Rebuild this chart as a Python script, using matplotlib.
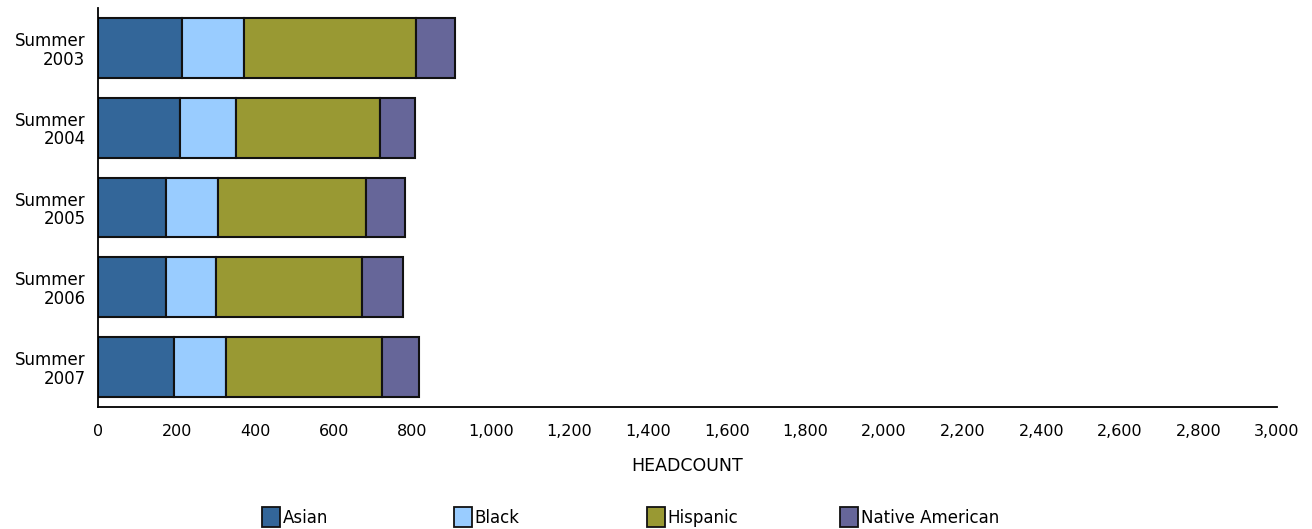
import matplotlib
matplotlib.use("Agg")
from matplotlib import pyplot as plt
from matplotlib.patches import Patch
import numpy as np

# Data
terms = ["Summer\n2003", "Summer\n2004", "Summer\n2005", "Summer\n2006", "Summer\n2007"]
asian = [215, 209, 174, 174, 193]
black = [157, 142, 131, 126, 133]
hispanic = [437, 367, 378, 373, 397]
native_american = [99, 88, 97, 102, 94]

groups = ["Asian", "Black", "Hispanic", "Native American"]
colors = ["#336699", "#99ccff", "#999933", "#666699"]
x_ticks = list(range(0, 3001, 200))

fig = plt.figure(figsize=(13.12, 5.29), dpi=100)
ax = fig.add_axes([98 / 1312, 1 - 407 / 529, 1179 / 1312, 399 / 529])

y = np.arange(len(terms))
left = np.zeros(len(terms))
for name, values, color in zip(groups, [asian, black, hispanic, native_american], colors):
    ax.barh(y, values, left=left, height=0.75, color=color,
            edgecolor="#111111", linewidth=1.5, label=name)
    left += np.array(values)

ax.set_ylim(4.5, -0.5)
ax.set_yticks(y)
ax.set_yticklabels(terms, fontsize=12, linespacing=1.05)
ax.set_xlim(0, 3000)
ax.set_xticks(x_ticks)
ax.set_xticklabels([f"{t:,}" for t in x_ticks], fontsize=11.5)
ax.tick_params(length=0, pad=12, axis="x")
ax.tick_params(length=0, pad=9, axis="y")

for side in ["top", "right"]:
    ax.spines[side].set_visible(False)
for side in ["left", "bottom"]:
    ax.spines[side].set_linewidth(1.3)

ax.set_xlabel("HEADCOUNT", fontsize=12.5, labelpad=13)

# Legend along the bottom, one entry per fixed slot
slots = [262, 454, 647, 840]
for name, color, px in zip(groups, colors, slots):
    handle = Patch(facecolor=color, edgecolor="#111111", linewidth=1.3)
    fig.legend(handles=[handle], labels=[name], loc="center left",
               bbox_to_anchor=(px / 1312, 1 - 517 / 529), frameon=False,
               fontsize=12, handlelength=1.1, handleheight=1.4,
               handletextpad=0.15, borderpad=0, borderaxespad=0)

fig.savefig("out.png", dpi=100)
